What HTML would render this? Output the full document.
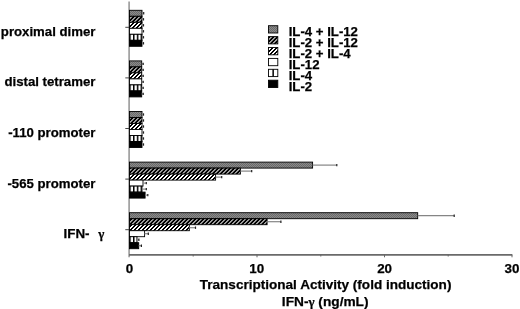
<!DOCTYPE html>
<html><head><meta charset="utf-8"><style>
html,body{margin:0;padding:0;background:#fff;}
body{width:520px;height:309px;overflow:hidden;}
svg{display:block;filter:blur(0.3px);}
text{font-family:"Liberation Sans",sans-serif;font-weight:bold;font-size:13.4px;fill:#000;stroke:#000;stroke-width:0.25px;}
.cl{font-size:13.2px;}
</style></head><body>
<svg width="520" height="309" viewBox="0 0 520 309">
<defs>
<pattern id="pGray" width="2" height="2" patternUnits="userSpaceOnUse">
<rect width="2" height="2" fill="#8a8a8a"/><rect width="1" height="1" fill="#6a6a6a"/><rect x="1" y="1" width="1" height="1" fill="#6a6a6a"/>
</pattern>
<pattern id="pDark" width="4" height="4" patternUnits="userSpaceOnUse" shape-rendering="crispEdges">
<rect width="4" height="4" fill="#000"/><rect x="3" y="0" width="1" height="1" fill="#a8a8a8"/><rect x="0" y="0" width="1" height="1" fill="#888"/><rect x="2" y="1" width="1" height="1" fill="#a8a8a8"/><rect x="3" y="1" width="1" height="1" fill="#888"/><rect x="1" y="2" width="1" height="1" fill="#a8a8a8"/><rect x="2" y="2" width="1" height="1" fill="#888"/><rect x="0" y="3" width="1" height="1" fill="#a8a8a8"/><rect x="1" y="3" width="1" height="1" fill="#888"/>
</pattern>
<pattern id="pLight" width="4" height="4" patternUnits="userSpaceOnUse" shape-rendering="crispEdges">
<rect width="4" height="4" fill="#fff"/><rect x="3" y="0" width="1" height="1" fill="#000"/><rect x="0" y="0" width="1" height="1" fill="#000"/><rect x="2" y="1" width="1" height="1" fill="#000"/><rect x="3" y="1" width="1" height="1" fill="#000"/><rect x="1" y="2" width="1" height="1" fill="#000"/><rect x="2" y="2" width="1" height="1" fill="#000"/><rect x="0" y="3" width="1" height="1" fill="#000"/><rect x="1" y="3" width="1" height="1" fill="#000"/>
</pattern>
<pattern id="pVert" x="129.2" width="3.8" height="4" patternUnits="userSpaceOnUse">
<rect width="3.8" height="4" fill="#fff"/><rect x="0" width="1.5" height="4" fill="#000"/>
</pattern>
</defs>

<line x1="129.1" y1="1.5" x2="129.1" y2="257.3" stroke="#999" stroke-width="1.6"/>
<line x1="129" y1="254.9" x2="512.3" y2="254.9" stroke="#6a6a6a" stroke-width="1.7"/>
<line x1="193.2" y1="254.7" x2="193.2" y2="256.5" stroke="#666" stroke-width="1"/>
<line x1="257.0" y1="254.7" x2="257.0" y2="257.3" stroke="#666" stroke-width="1"/>
<line x1="320.8" y1="254.7" x2="320.8" y2="256.5" stroke="#666" stroke-width="1"/>
<line x1="384.5" y1="254.7" x2="384.5" y2="257.3" stroke="#666" stroke-width="1"/>
<line x1="448.2" y1="254.7" x2="448.2" y2="256.5" stroke="#666" stroke-width="1"/>
<line x1="512.0" y1="254.7" x2="512.0" y2="257.3" stroke="#666" stroke-width="1"/>
<line x1="125.3" y1="27.3" x2="129.5" y2="27.3" stroke="#444" stroke-width="1"/>
<line x1="125.3" y1="77.9" x2="129.5" y2="77.9" stroke="#444" stroke-width="1"/>
<line x1="125.3" y1="128.5" x2="129.5" y2="128.5" stroke="#444" stroke-width="1"/>
<line x1="125.3" y1="179.1" x2="129.5" y2="179.1" stroke="#444" stroke-width="1"/>
<line x1="125.3" y1="229.7" x2="129.5" y2="229.7" stroke="#444" stroke-width="1"/>
<rect x="129.5" y="10.30" width="12.5" height="6.00" fill="url(#pGray)" stroke="#000" stroke-width="0.9"/>
<line x1="142.0" y1="13.30" x2="143.7" y2="13.30" stroke="#858585" stroke-width="1.2"/>
<line x1="143.7" y1="12.10" x2="143.7" y2="14.50" stroke="#222" stroke-width="1.2"/>
<rect x="129.5" y="16.30" width="12.5" height="6.00" fill="url(#pDark)" stroke="#000" stroke-width="0.9"/>
<line x1="142.0" y1="19.30" x2="143.5" y2="19.30" stroke="#858585" stroke-width="1.2"/>
<line x1="143.5" y1="18.10" x2="143.5" y2="20.50" stroke="#222" stroke-width="1.2"/>
<rect x="129.5" y="22.30" width="12.5" height="6.00" fill="url(#pLight)" stroke="#000" stroke-width="0.9"/>
<line x1="142.0" y1="25.30" x2="143.5" y2="25.30" stroke="#858585" stroke-width="1.2"/>
<line x1="143.5" y1="24.10" x2="143.5" y2="26.50" stroke="#222" stroke-width="1.2"/>
<rect x="129.5" y="28.30" width="12.5" height="6.00" fill="#fff" stroke="#000" stroke-width="0.9"/>
<line x1="142.0" y1="31.30" x2="143.5" y2="31.30" stroke="#858585" stroke-width="1.2"/>
<line x1="143.5" y1="30.10" x2="143.5" y2="32.50" stroke="#222" stroke-width="1.2"/>
<rect x="129.5" y="34.30" width="12.5" height="6.00" fill="url(#pVert)" stroke="#000" stroke-width="0.9"/>
<line x1="142.0" y1="37.30" x2="143.5" y2="37.30" stroke="#858585" stroke-width="1.2"/>
<line x1="143.5" y1="36.10" x2="143.5" y2="38.50" stroke="#222" stroke-width="1.2"/>
<rect x="129.5" y="40.30" width="12.5" height="6.00" fill="#000" stroke="#000" stroke-width="0.9"/>
<line x1="142.0" y1="43.30" x2="143.5" y2="43.30" stroke="#858585" stroke-width="1.2"/>
<line x1="143.5" y1="42.10" x2="143.5" y2="44.50" stroke="#222" stroke-width="1.2"/>
<rect x="129.5" y="60.90" width="12.2" height="6.00" fill="url(#pGray)" stroke="#000" stroke-width="0.9"/>
<line x1="141.7" y1="63.90" x2="143.2" y2="63.90" stroke="#858585" stroke-width="1.2"/>
<line x1="143.2" y1="62.70" x2="143.2" y2="65.10" stroke="#222" stroke-width="1.2"/>
<rect x="129.5" y="66.90" width="12.2" height="6.00" fill="url(#pDark)" stroke="#000" stroke-width="0.9"/>
<line x1="141.7" y1="69.90" x2="143.2" y2="69.90" stroke="#858585" stroke-width="1.2"/>
<line x1="143.2" y1="68.70" x2="143.2" y2="71.10" stroke="#222" stroke-width="1.2"/>
<rect x="129.5" y="72.90" width="12.2" height="6.00" fill="url(#pLight)" stroke="#000" stroke-width="0.9"/>
<line x1="141.7" y1="75.90" x2="143.2" y2="75.90" stroke="#858585" stroke-width="1.2"/>
<line x1="143.2" y1="74.70" x2="143.2" y2="77.10" stroke="#222" stroke-width="1.2"/>
<rect x="129.5" y="78.90" width="12.2" height="6.00" fill="#fff" stroke="#000" stroke-width="0.9"/>
<line x1="141.7" y1="81.90" x2="143.2" y2="81.90" stroke="#858585" stroke-width="1.2"/>
<line x1="143.2" y1="80.70" x2="143.2" y2="83.10" stroke="#222" stroke-width="1.2"/>
<rect x="129.5" y="84.90" width="12.2" height="6.00" fill="url(#pVert)" stroke="#000" stroke-width="0.9"/>
<line x1="141.7" y1="87.90" x2="143.2" y2="87.90" stroke="#858585" stroke-width="1.2"/>
<line x1="143.2" y1="86.70" x2="143.2" y2="89.10" stroke="#222" stroke-width="1.2"/>
<rect x="129.5" y="90.90" width="12.2" height="6.00" fill="#000" stroke="#000" stroke-width="0.9"/>
<line x1="141.7" y1="93.90" x2="143.2" y2="93.90" stroke="#858585" stroke-width="1.2"/>
<line x1="143.2" y1="92.70" x2="143.2" y2="95.10" stroke="#222" stroke-width="1.2"/>
<rect x="129.5" y="111.50" width="12.5" height="6.00" fill="url(#pGray)" stroke="#000" stroke-width="0.9"/>
<line x1="142.0" y1="114.50" x2="143.5" y2="114.50" stroke="#858585" stroke-width="1.2"/>
<line x1="143.5" y1="113.30" x2="143.5" y2="115.70" stroke="#222" stroke-width="1.2"/>
<rect x="129.5" y="117.50" width="12.5" height="6.00" fill="url(#pDark)" stroke="#000" stroke-width="0.9"/>
<line x1="142.0" y1="120.50" x2="143.5" y2="120.50" stroke="#858585" stroke-width="1.2"/>
<line x1="143.5" y1="119.30" x2="143.5" y2="121.70" stroke="#222" stroke-width="1.2"/>
<rect x="129.5" y="123.50" width="12.5" height="6.00" fill="url(#pLight)" stroke="#000" stroke-width="0.9"/>
<line x1="142.0" y1="126.50" x2="143.5" y2="126.50" stroke="#858585" stroke-width="1.2"/>
<line x1="143.5" y1="125.30" x2="143.5" y2="127.70" stroke="#222" stroke-width="1.2"/>
<rect x="129.5" y="129.50" width="12.5" height="6.00" fill="#fff" stroke="#000" stroke-width="0.9"/>
<line x1="142.0" y1="132.50" x2="143.5" y2="132.50" stroke="#858585" stroke-width="1.2"/>
<line x1="143.5" y1="131.30" x2="143.5" y2="133.70" stroke="#222" stroke-width="1.2"/>
<rect x="129.5" y="135.50" width="12.5" height="6.00" fill="url(#pVert)" stroke="#000" stroke-width="0.9"/>
<line x1="142.0" y1="138.50" x2="143.5" y2="138.50" stroke="#858585" stroke-width="1.2"/>
<line x1="143.5" y1="137.30" x2="143.5" y2="139.70" stroke="#222" stroke-width="1.2"/>
<rect x="129.5" y="141.50" width="12.5" height="6.00" fill="#000" stroke="#000" stroke-width="0.9"/>
<line x1="142.0" y1="144.50" x2="143.5" y2="144.50" stroke="#858585" stroke-width="1.2"/>
<line x1="143.5" y1="143.30" x2="143.5" y2="145.70" stroke="#222" stroke-width="1.2"/>
<rect x="129.5" y="162.10" width="183.1" height="6.00" fill="url(#pGray)" stroke="#000" stroke-width="0.9"/>
<line x1="312.6" y1="165.10" x2="336.8" y2="165.10" stroke="#858585" stroke-width="1.2"/>
<line x1="336.8" y1="163.90" x2="336.8" y2="166.30" stroke="#222" stroke-width="1.2"/>
<rect x="129.5" y="168.10" width="110.9" height="6.00" fill="url(#pDark)" stroke="#000" stroke-width="0.9"/>
<line x1="240.4" y1="171.10" x2="251.7" y2="171.10" stroke="#858585" stroke-width="1.2"/>
<line x1="251.7" y1="169.90" x2="251.7" y2="172.30" stroke="#222" stroke-width="1.2"/>
<rect x="129.5" y="174.10" width="86.1" height="6.00" fill="url(#pLight)" stroke="#000" stroke-width="0.9"/>
<line x1="215.6" y1="177.10" x2="221.7" y2="177.10" stroke="#858585" stroke-width="1.2"/>
<line x1="221.7" y1="175.90" x2="221.7" y2="178.30" stroke="#222" stroke-width="1.2"/>
<rect x="129.5" y="180.10" width="13.5" height="6.00" fill="#fff" stroke="#000" stroke-width="0.9"/>
<line x1="143.0" y1="183.10" x2="146.3" y2="183.10" stroke="#858585" stroke-width="1.2"/>
<line x1="146.3" y1="181.90" x2="146.3" y2="184.30" stroke="#222" stroke-width="1.2"/>
<rect x="129.5" y="186.10" width="12.5" height="6.00" fill="url(#pVert)" stroke="#000" stroke-width="0.9"/>
<line x1="142.0" y1="189.10" x2="146.3" y2="189.10" stroke="#858585" stroke-width="1.2"/>
<line x1="146.3" y1="187.90" x2="146.3" y2="190.30" stroke="#222" stroke-width="1.2"/>
<rect x="129.5" y="192.10" width="15.6" height="6.00" fill="#000" stroke="#000" stroke-width="0.9"/>
<line x1="145.1" y1="195.10" x2="147.8" y2="195.10" stroke="#858585" stroke-width="1.2"/>
<line x1="147.8" y1="193.90" x2="147.8" y2="196.30" stroke="#222" stroke-width="1.2"/>
<rect x="129.5" y="212.70" width="288.2" height="6.00" fill="url(#pGray)" stroke="#000" stroke-width="0.9"/>
<line x1="417.7" y1="215.70" x2="454.2" y2="215.70" stroke="#858585" stroke-width="1.2"/>
<line x1="454.2" y1="214.50" x2="454.2" y2="216.90" stroke="#222" stroke-width="1.2"/>
<rect x="129.5" y="218.70" width="137.6" height="6.00" fill="url(#pDark)" stroke="#000" stroke-width="0.9"/>
<line x1="267.1" y1="221.70" x2="280.9" y2="221.70" stroke="#858585" stroke-width="1.2"/>
<line x1="280.9" y1="220.50" x2="280.9" y2="222.90" stroke="#222" stroke-width="1.2"/>
<rect x="129.5" y="224.70" width="59.8" height="6.00" fill="url(#pLight)" stroke="#000" stroke-width="0.9"/>
<line x1="189.3" y1="227.70" x2="195.5" y2="227.70" stroke="#858585" stroke-width="1.2"/>
<line x1="195.5" y1="226.50" x2="195.5" y2="228.90" stroke="#222" stroke-width="1.2"/>
<rect x="129.5" y="230.70" width="15.1" height="6.00" fill="#fff" stroke="#000" stroke-width="0.9"/>
<line x1="144.6" y1="233.70" x2="148.3" y2="233.70" stroke="#858585" stroke-width="1.2"/>
<line x1="148.3" y1="232.50" x2="148.3" y2="234.90" stroke="#222" stroke-width="1.2"/>
<rect x="129.5" y="236.70" width="7.5" height="6.00" fill="url(#pVert)" stroke="#000" stroke-width="0.9"/>
<line x1="137.0" y1="239.70" x2="138.9" y2="239.70" stroke="#858585" stroke-width="1.2"/>
<line x1="138.9" y1="238.50" x2="138.9" y2="240.90" stroke="#222" stroke-width="1.2"/>
<rect x="129.5" y="242.70" width="9.2" height="6.00" fill="#000" stroke="#000" stroke-width="0.9"/>
<line x1="138.7" y1="245.70" x2="141.4" y2="245.70" stroke="#858585" stroke-width="1.2"/>
<line x1="141.4" y1="244.50" x2="141.4" y2="246.90" stroke="#222" stroke-width="1.2"/>
<text class="cl" x="95.4" y="35.7" text-anchor="end">proximal dimer</text>
<text class="cl" x="95.4" y="86.2" text-anchor="end">distal tetramer</text>
<text class="cl" x="95.4" y="137.2" text-anchor="end">-110 promoter</text>
<text class="cl" x="95.4" y="187.8" text-anchor="end">-565 promoter</text>
<text x="63.5" y="238.3">IFN-</text>
<text x="98.3" y="238.3" style="font-family:'Liberation Serif',serif;font-size:13px">γ</text>
<text x="129.6" y="273.3" text-anchor="middle">0</text>
<text x="256.7" y="273.3" text-anchor="middle">10</text>
<text x="384.6" y="273.3" text-anchor="middle">20</text>
<text x="512" y="273.3" text-anchor="middle">30</text>
<text x="325.6" y="289.1" text-anchor="middle" style="font-size:13.55px">Transcriptional Activity (fold induction)</text>
<text x="325.2" y="305.5" text-anchor="middle" style="font-size:13.7px">IFN-<tspan style="font-family:'Liberation Serif',serif;font-size:13px">γ</tspan> (ng/mL)</text>
<rect x="268.5" y="25.70" width="9.3" height="7.3" fill="url(#pGray)" stroke="#000" stroke-width="0.9"/>
<text x="288.7" y="36.00" style="font-size:13.2px">IL-4 + IL-12</text>
<rect x="268.5" y="36.60" width="9.3" height="7.3" fill="url(#pDark)" stroke="#000" stroke-width="0.9"/>
<text x="288.7" y="46.90" style="font-size:13.2px">IL-2 + IL-12</text>
<rect x="268.5" y="47.50" width="9.3" height="7.3" fill="url(#pLight)" stroke="#000" stroke-width="0.9"/>
<text x="288.7" y="57.80" style="font-size:13.2px">IL-2 + IL-4</text>
<rect x="268.5" y="58.40" width="9.3" height="7.3" fill="#fff" stroke="#000" stroke-width="0.9"/>
<text x="288.7" y="68.70" style="font-size:13.2px">IL-12</text>
<rect x="268.5" y="69.30" width="9.3" height="7.3" fill="#fff" stroke="#000" stroke-width="0.9"/>
<rect x="272.4" y="69.30" width="1.5" height="7.3" fill="#000"/>
<text x="288.7" y="79.60" style="font-size:13.2px">IL-4</text>
<rect x="268.5" y="80.20" width="9.3" height="7.3" fill="#000" stroke="#000" stroke-width="0.9"/>
<text x="288.7" y="90.50" style="font-size:13.2px">IL-2</text>
</svg></body></html>
